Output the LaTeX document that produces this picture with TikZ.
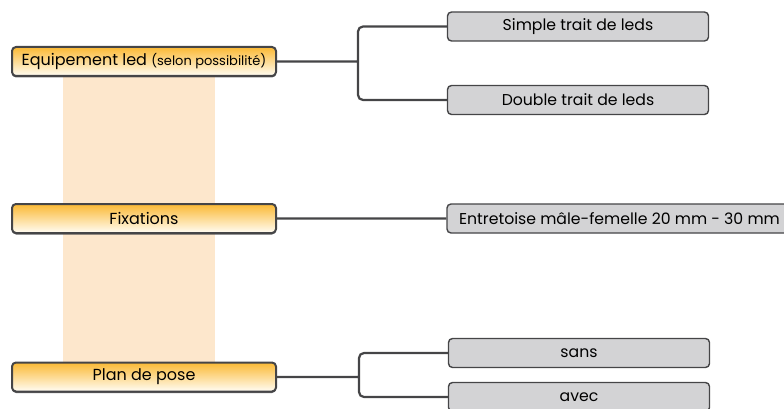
\documentclass[tikz,border=0pt]{standalone}
\usepackage{fontspec}
\setmainfont{Poppins}
\usetikzlibrary{positioning, shadows}

\definecolor{edge}{HTML}{454547}
\definecolor{boxgray}{HTML}{D3D3D5}
\definecolor{gold}{HTML}{FBB934}
\definecolor{cream}{HTML}{FFFDF5}
\definecolor{band}{HTML}{FDE7CC}

\begin{document}
\begin{tikzpicture}[x=1pt,y=-1pt,on grid,
        main/.style={draw=edge, line width=2pt, rounded corners=4pt,
            top color=gold, bottom color=cream, minimum width=264pt,
            minimum height=29pt, inner sep=0pt, font=\fontsize{16}{17}\selectfont,
            drop shadow={shadow xshift=0pt, shadow yshift=-1.5pt, fill=edge, opacity=0.8}},
        leaf/.style={draw=edge, line width=1.4pt, rounded corners=4pt,
            fill=boxgray, minimum width=261pt, minimum height=29pt, inner sep=0pt,
            font=\fontsize{15.7}{16}\selectfont},
        link/.style={draw=edge, line width=2.2pt, rounded corners=5pt}]
        \useasboundingbox (0,0) rectangle (784,409);
        \fill[band] (63,70) rectangle (215,370);

        \node[main]   (equip)  at (144,61.5)        {Equipement led {\fontsize{13}{13}\selectfont(selon possibilité)}};
        \node[main]   (fix)    [below=157pt of equip]      {Fixations};
        \node[main]   (plan)   [below=315.5pt of equip]    {Plan de pose};

        \node[leaf]   (simple) at (578,26.5)        {Simple trait de leds};
        \node[leaf]   (double) [below=73.5pt of simple]   {Double trait de leds};
        \node[leaf, minimum width=345pt] (entre) at (619.5,218.5) {Entretoise mâle-femelle 20 mm - 30 mm};
        \node[leaf]   (sans)   at (579,353)         {sans};
        \node[leaf]   (avec)   [below=44pt of sans]    {avec};

        \coordinate (j1) at (358,0 |- equip.east);
        \coordinate (j3) at (359,0 |- plan.east);

        \path[link] (equip.east) -- (j1)
        (simple.west) -| (j1) |- (double.west)
        (fix.east) -- (entre.west)
        (plan.east) -- (j3)
        (sans.west) -| (j3) |- (avec.west)
        ;
\end{tikzpicture}
\end{document}
